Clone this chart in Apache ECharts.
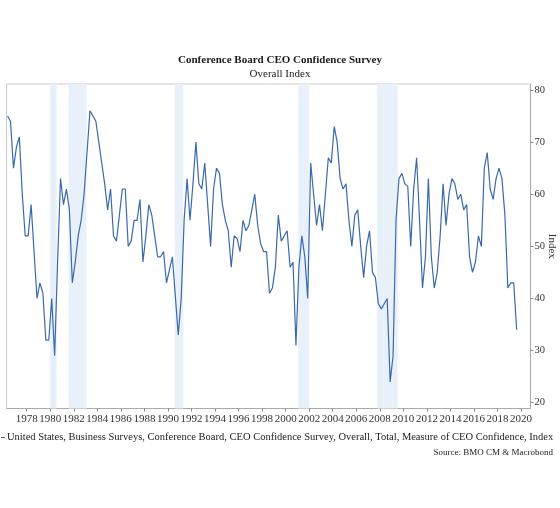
<!DOCTYPE html>
<html>
<head>
<meta charset="utf-8">
<script src="https://cdn.jsdelivr.net/npm/echarts@6/dist/echarts.min.js"></script>
<style>
html,body{margin:0;padding:0;background:#fff;}
#chart{width:560px;height:508px;}
</style>
</head>
<body>
<div id="chart"></div>
<script>
// Quarterly series, first observation 1976 Q2
const firstYear = 1976;
const firstQuarter = 2;
const ceoConfidence = [
  75, 74, 65,
  69, 71, 60, 52,
  52, 58, 49, 40,
  43, 41, 32, 32,
  40, 29, 47, 63,
  58, 61, 57, 43,
  47, 52, 55, 60,
  68, 76, 75, 74,
  70, 66, 62, 57,
  61, 52, 51, 56,
  61, 61, 50, 51,
  55, 55, 59, 47,
  52, 58, 56, 52,
  48, 48, 49, 43,
  45.5, 48, 40.5, 33,
  40, 55, 63, 55,
  62, 70, 62, 61,
  66, 58, 50, 61,
  65, 64, 58, 55,
  53, 46, 52, 51.5,
  49, 55, 53, 54,
  57, 60, 54, 50.5,
  49, 49, 41, 42,
  46, 56, 51, 52,
  53, 46, 47, 31,
  46, 52, 48, 40,
  66, 60, 54, 58,
  53, 60, 67, 66,
  73, 70, 63, 61,
  62, 55, 50, 56,
  57, 50, 44, 50,
  53, 45, 44, 39,
  38, 39, 40, 24,
  29, 55, 63, 64,
  62, 61.5, 50, 61,
  67, 55, 42, 48,
  63, 48, 42, 45,
  52, 62, 54, 60,
  63, 62, 59, 60,
  57, 58, 48, 45,
  47, 52, 50, 65,
  68, 61, 59, 63,
  65, 63, 56, 42,
  43, 43, 34
];
// Recession periods (decimal years)
const recessionStarts = [1980.0, 1981.55, 1990.57, 2001.07, 2007.78];
const recessionEnds   = [1980.55, 1983.08, 1991.3, 2002.0, 2009.52];
const xTickYears = [1978,1980,1982,1984,1986,1988,1990,1992,1994,1996,1998,2000,2002,2004,2006,2008,2010,2012,2014,2016,2018,2020];
const yTickValues = [20,30,40,50,60,70,80];

const seriesName = 'United States, Business Surveys, Conference Board, CEO Confidence Survey, Overall, Total, Measure of CEO Confidence, Index';

// place each quarterly observation at mid-quarter
const seriesData = ceoConfidence.map(function (v, i) {
  const qIndex = (firstQuarter - 1) + i;
  const year = firstYear + Math.floor(qIndex / 4);
  const q = qIndex % 4;
  return [year + q * 0.25 + 0.125, v];
});

const bands = recessionStarts.map(function (s, i) {
  return [{ xAxis: s }, { xAxis: recessionEnds[i] }];
});

const serif = "'Liberation Serif', 'DejaVu Serif', serif";
const chart = echarts.init(document.getElementById('chart'), null, { renderer: 'canvas' });
chart.setOption({
  animation: false,
  backgroundColor: '#ffffff',
  title: [
    {
      text: 'Conference Board CEO Confidence Survey',
      left: 'center', top: 55, padding: 0,
      textStyle: { fontFamily: serif, fontSize: 11, fontWeight: 'bold', color: '#1a1a1a' }
    },
    {
      text: 'Overall Index',
      left: 'center', top: 69, padding: 0,
      textStyle: { fontFamily: serif, fontSize: 11, fontWeight: 'normal', color: '#1a1a1a' }
    },
    {
      text: 'Source: BMO CM & Macrobond',
      right: 7, top: 448, padding: 0,
      textStyle: { fontFamily: serif, fontSize: 9, fontWeight: 'normal', color: '#1a1a1a' }
    }
  ],
  legend: {
    left: 1, top: 432, padding: 0,
    itemWidth: 4, itemHeight: 1,
    itemGap: 0,
    icon: 'rect',
    textStyle: { fontFamily: serif, fontSize: 10.5, color: '#1a1a1a', padding: [0, 0, 0, -3] },
    data: [seriesName]
  },
  grid: {
    left: 6.5, right: 29.5, top: 84, bottom: 99.5,
    outerBoundsMode: 'none',
    containLabel: false,
    show: true, borderColor: '#cccccc', borderWidth: 1
  },
  xAxis: {
    type: 'value',
    min: 1976.284, max: 2020.80,
    axisLine: { show: true, lineStyle: { color: '#aaaaaa' } },
    axisTick: { show: true, length: 3, customValues: xTickYears, lineStyle: { color: '#888888' } },
    axisLabel: { customValues: xTickYears, fontFamily: serif, fontSize: 11, color: '#333333', margin: 5,
      formatter: function (v) { return String(Math.round(v)); } },
    splitLine: { show: false }
  },
  yAxis: {
    type: 'value',
    position: 'right',
    min: 18.89, max: 81.15,
    name: 'Index',
    nameLocation: 'middle',
    nameRotate: -90,
    nameGap: 16,
    nameMoveOverlap: false,
    nameTextStyle: { fontFamily: serif, fontSize: 11, color: '#333333' },
    axisLine: { show: true, lineStyle: { color: '#aaaaaa' } },
    axisTick: { show: true, length: 3, customValues: yTickValues, lineStyle: { color: '#888888' } },
    axisLabel: { customValues: yTickValues, fontFamily: serif, fontSize: 10.5, color: '#333333', margin: 4 },
    splitLine: { show: false }
  },
  series: [{
    name: seriesName,
    type: 'line',
    data: seriesData,
    showSymbol: false,
    symbol: 'none',
    lineStyle: { color: '#3a69ad', width: 1.2 },
    itemStyle: { color: '#3a69ad' },
    markArea: {
      silent: true,
      itemStyle: { color: '#e8f0f9' },
      data: bands
    }
  }]
});
</script>
</body>
</html>
